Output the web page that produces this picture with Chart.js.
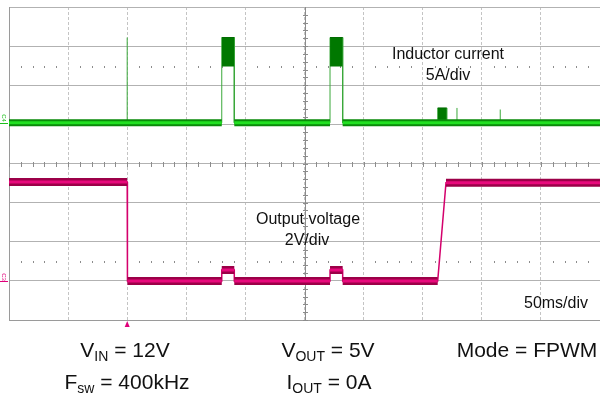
<!DOCTYPE html>
<html>
<head>
<meta charset="utf-8">
<script src="https://cdn.jsdelivr.net/npm/chart.js@4.4.1/dist/chart.umd.min.js"></script>
<style>
  body { margin: 0; background: #fff; overflow: hidden; }
  #wrap { position: relative; width: 600px; height: 401px; font-family: "Liberation Sans", Arial, sans-serif; color: #111; }
  .lbl { position: absolute; width: 200px; text-align: center; white-space: nowrap; }
  .note { font-size: 16px; line-height: 18px; }
  .cond { font-size: 21px; line-height: 24px; }
  .cond sub { font-size: 14px; line-height: 0; vertical-align: -4px; }
  .ch { position: absolute; font-size: 6px; line-height: 6px; transform: rotate(90deg); }
</style>
</head>
<body>
<div id="wrap">
  <canvas id="scope" width="600" height="401"></canvas>

  <div class="lbl note" style="left:348px; top:45px;">Inductor current</div>
  <div class="lbl note" style="left:348px; top:66px;">5A/div</div>
  <div class="lbl note" style="left:208px; top:210px;">Output voltage</div>
  <div class="lbl note" style="left:207px; top:231px;">2V/div</div>
  <div class="lbl note" style="left:456px; top:294px;">50ms/div</div>

  <div class="lbl cond" style="left:25px; top:338px;">V<sub>IN</sub> = 12V</div>
  <div class="lbl cond" style="left:27px; top:370px;">F<sub>sw</sub> = 400kHz</div>
  <div class="lbl cond" style="left:228px; top:338px;">V<sub>OUT</sub> = 5V</div>
  <div class="lbl cond" style="left:229px; top:370px;">I<sub>OUT</sub> = 0A</div>
  <div class="lbl cond" style="left:427px; top:338px;">Mode = FPWM</div>

  <div class="ch" style="left:0px; top:115px; color:#1bbf1b;">C4</div>
  <div class="ch" style="left:0px; top:274px; color:#e0007a;">C3</div>
</div>

<script>
// time base: 50 ms/div, 10 divisions
const timeDivMs = 50;
const timeSpanMs = 500;

// output voltage (V), 2 V/div, flat stretches of the trace
const vSegStart = [0, 100.2, 180.0, 190.6, 271.6, 282.3, 369.7];
const vSegEnd   = [100.0, 180.0, 190.6, 271.6, 282.3, 362.7, 500];
const vSegLevel = [5.05, 0.0, 0.56, 0.0, 0.56, 0.0, 5.02];

// inductor current (A), 5 A/div
const iBaseStart = [0, 190.6, 282.3];
const iBaseEnd   = [180.0, 271.6, 500];
const iBaseLevel = 0;
// switching bursts (envelope high / low)
const iBurstStart = [180.0, 271.6, 362.7];
const iBurstEnd   = [190.6, 282.3, 370.3];
const iBurstHigh  = [10.9, 10.9, 1.9];
const iBurstLow   = [7.2, 7.2, 0.0];
// single pulses
const iSpikeTime = [100.0, 379.0, 415.6];
const iSpikePeak = [10.9, 1.9, 1.7];

const triggerMs = 100;

// build point lists
function flats(starts, ends, level) {
  const pts = [];
  starts.forEach(function (s, k) {
    const lv = Array.isArray(level) ? level[k] : level;
    pts.push({x: s, y: lv}, {x: ends[k], y: lv}, {x: ends[k], y: null});
  });
  return pts;
}
function steps(starts, ends, level) {
  const pts = [];
  starts.forEach(function (s, k) {
    pts.push({x: s, y: level[k]}, {x: ends[k], y: level[k]});
  });
  return pts;
}
const vBand = flats(vSegStart, vSegEnd, vSegLevel);
const vLine = steps(vSegStart, vSegEnd, vSegLevel);
const iBand = flats(iBaseStart, iBaseEnd, iBaseLevel);

const iThin = [];
iSpikeTime.forEach(function (t, k) {
  iThin.push({x: t, y: iBaseLevel}, {x: t, y: iSpikePeak[k]}, {x: t, y: null});
});
iBurstStart.forEach(function (s, k) {
  iThin.push({x: s, y: iBaseLevel}, {x: s, y: iBurstHigh[k]}, {x: s, y: null});
  iThin.push({x: iBurstEnd[k], y: iBurstHigh[k]}, {x: iBurstEnd[k], y: iBaseLevel}, {x: iBurstEnd[k], y: null});
});

const datasets = [];
iBurstStart.forEach(function (s, k) {
  datasets.push({
    data: [{x: s, y: iBurstHigh[k]}, {x: iBurstEnd[k], y: iBurstHigh[k]}],
    yAxisID: 'yI', borderColor: '#006a00', borderWidth: 1,
    backgroundColor: '#007800', fill: {value: iBurstLow[k]}, order: 2
  });
});
datasets.push(
  {data: iThin, yAxisID: 'yI', borderColor: '#3aa83a', borderWidth: 1, order: 3},
  {data: iBand, yAxisID: 'yI', borderColor: '#0a8a0a', borderWidth: 7, order: 1},
  {data: iBand, yAxisID: 'yI', borderColor: '#22e022', borderWidth: 3, order: 0},
  {data: vLine, yAxisID: 'yV', borderColor: '#d4006c', borderWidth: 1.5, order: 3},
  {data: vBand, yAxisID: 'yV', borderColor: '#9c0048', borderWidth: 8, order: 1},
  {data: vBand, yAxisID: 'yV', borderColor: '#e8097c', borderWidth: 3, order: 0}
);
datasets.forEach(function (d) {
  d.type = 'line'; d.pointRadius = 0; d.spanGaps = false; d.tension = 0;
  if (d.fill === undefined) d.fill = false;
});

// scope decorations: centre-axis minor ticks, dotted rows, trigger mark
const scopeMarks = {
  id: 'scopeMarks',
  beforeDatasetsDraw: function (chart) {
    const ctx = chart.ctx, xs = chart.scales.x, ys = chart.scales.yV, a = chart.chartArea;
    ctx.save();
    ctx.fillStyle = '#8c8c8c';
    const cy = Math.round(ys.getPixelForValue(6));
    const cx = Math.round(xs.getPixelForValue(250));
    for (let t = 0; t <= timeSpanMs; t += timeDivMs / 5) {
      const px = Math.round(xs.getPixelForValue(t));
      ctx.fillRect(px, cy - 2, 1, 5);
      if (t % timeDivMs !== 0) {
        ctx.fillRect(px, Math.round(ys.getPixelForValue(11)), 1, 2);
        ctx.fillRect(px, Math.round(ys.getPixelForValue(1)), 1, 2);
      }
    }
    for (let v = -2; v <= 14; v += 0.4) {
      const py = Math.round(ys.getPixelForValue(v));
      ctx.fillRect(cx - 2, py, 5, 1);
    }
    ctx.fillRect(cx, a.top, 1, a.bottom - a.top);
    // channel ground markers
    ctx.fillStyle = '#1bbf1b';
    ctx.fillRect(0, Math.round(chart.scales.yI.getPixelForValue(0)), 8, 1);
    ctx.fillStyle = '#e0007a';
    ctx.fillRect(0, Math.round(ys.getPixelForValue(0)), 8, 1);
    // trigger position
    const tx = xs.getPixelForValue(triggerMs);
    ctx.beginPath();
    ctx.moveTo(tx, a.bottom + 1);
    ctx.lineTo(tx - 2.5, a.bottom + 7);
    ctx.lineTo(tx + 2.5, a.bottom + 7);
    ctx.closePath();
    ctx.fill();
    ctx.restore();
  }
};

new Chart(document.getElementById('scope'), {
  type: 'line',
  data: {datasets: datasets},
  options: {
    responsive: false,
    animation: false,
    events: [],
    layout: {padding: {left: 9, right: 0, top: 7, bottom: 81}},
    plugins: {legend: {display: false}, tooltip: {enabled: false}},
    scales: {
      x: {
        type: 'linear', min: 0, max: timeSpanMs,
        ticks: {display: false, stepSize: timeDivMs},
        grid: {color: '#c4c4c4', drawTicks: false},
        border: {display: true, color: '#9a9a9a', dash: [3, 2]}
      },
      yV: {
        position: 'left', min: -2, max: 14,
        ticks: {display: false, stepSize: 2},
        grid: {color: '#b2b2b2', drawTicks: false},
        border: {display: true, color: '#9a9a9a'}
      },
      yI: {display: false, min: -25.2, max: 14.8}
    }
  },
  plugins: [scopeMarks]
});
</script>
</body>
</html>
